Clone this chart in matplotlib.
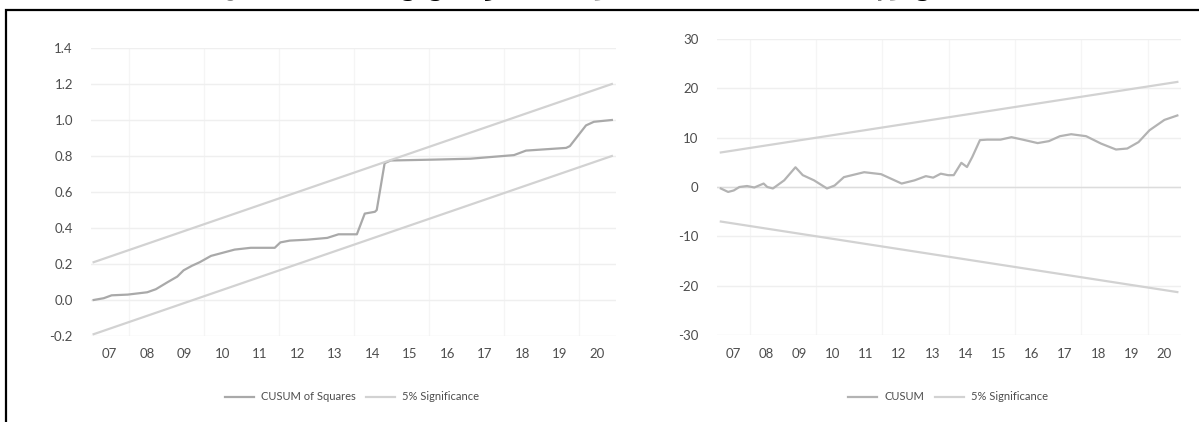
import matplotlib
matplotlib.use("Agg")
import matplotlib.pyplot as plt
from matplotlib.patches import Rectangle

# ---------------- data ----------------
year_labels = ["07", "08", "09", "10", "11", "12", "13", "14", "15", "16", "17", "18", "19", "20"]
year_starts = list(range(2007, 2021))

sq_t = [2007.07, 2007.34, 2007.55, 2007.98, 2008.5, 2008.73, 2009.05, 2009.3, 2009.47,
        2009.69, 2009.9, 2010.2, 2010.83, 2011.26, 2011.9, 2012.05, 2012.3, 2012.76,
        2013.3, 2013.6, 2014.09, 2014.3, 2014.57, 2014.62, 2014.83, 2014.99, 2016.17,
        2017.12, 2018.28, 2018.6, 2019.67, 2019.77, 2020.2, 2020.41, 2020.89]
sq_vals = [0.0, 0.01, 0.026, 0.03, 0.043, 0.06, 0.10, 0.13, 0.165, 0.19, 0.21, 0.245,
           0.28, 0.29, 0.29, 0.32, 0.33, 0.335, 0.345, 0.365, 0.365, 0.48, 0.49, 0.5,
           0.76, 0.775, 0.78, 0.785, 0.805, 0.83, 0.845, 0.855, 0.97, 0.99, 1.0]
sq_band_t = [2007.07, 2020.89]
sq_upper = [0.21, 1.2]
sq_lower = [-0.19, 0.8]

cu_t = [2007.13, 2007.35, 2007.52, 2007.69, 2007.92, 2008.14, 2008.42, 2008.53, 2008.70,
        2009.04, 2009.38, 2009.60, 2009.94, 2010.33, 2010.56, 2010.84, 2011.45, 2011.96,
        2012.58, 2012.97, 2013.31, 2013.53, 2013.76, 2013.98, 2014.15, 2014.38, 2014.55,
        2014.71, 2014.94, 2015.16, 2015.56, 2015.89, 2016.23, 2016.68, 2017.02, 2017.35,
        2017.69, 2018.14, 2018.59, 2019.04, 2019.38, 2019.72, 2020.05, 2020.50, 2020.89]
cu_vals = [-0.3, -1.0, -0.7, 0.0, 0.2, -0.1, 0.7, 0.0, -0.3, 1.35, 4.0, 2.4, 1.35, -0.3,
           0.3, 2.0, 3.0, 2.6, 0.7, 1.35, 2.2, 1.9, 2.7, 2.4, 2.4, 4.9, 4.05, 6.1, 9.5,
           9.6, 9.6, 10.1, 9.6, 8.9, 9.3, 10.3, 10.7, 10.3, 8.8, 7.6, 7.8, 9.1, 11.5,
           13.6, 14.5]
cu_band_t = [2007.13, 2020.89]
cu_upper = [7.0, 21.3]
cu_lower = [-7.0, -21.3]

sq_yticks = [-0.2, 0.0, 0.2, 0.4, 0.6, 0.8, 1.0, 1.2, 1.4]
cu_yticks = [-30, -20, -10, 0, 10, 20, 30]

title_text = "الشكل (3): نتائج اختبار CUSUM و CUSUM of squares للنموذج"

# ---------------- style ----------------
W, H = 1199, 422
fig = plt.figure(figsize=(W / 100, H / 100), dpi=100)
plt.rcParams['font.family'] = ['Lato', 'DejaVu Sans']

C_MAIN = "#a9a9a9"
C_BAND = "#d2d2d2"
C_GRID = "#efefef"
C_TXT = "#4d4d4d"


def fr(x0, y0, x1, y1):
    return [x0 / W, 1 - y1 / H, (x1 - x0) / W, (y1 - y0) / H]


def style(ax, yticks, fmt):
    for s in ax.spines.values():
        s.set_visible(False)
    ax.set_yticks(yticks)
    ax.set_yticklabels([fmt(v) for v in yticks])
    centers = [y + 0.5 for y in year_starts]
    ax.set_xticks(centers)
    ax.set_xticklabels(year_labels)
    ax.set_xticks(list(range(2008, 2021, 2)), minor=True)
    ax.tick_params(axis='both', which='both', length=0, labelsize=9.5, colors=C_TXT)
    ax.tick_params(axis='y', pad=13)
    ax.tick_params(axis='x', pad=9)
    ax.grid(axis='y', which='major', color=C_GRID, lw=1.0)
    ax.grid(axis='x', which='minor', color="#f5f5f5", lw=1.0)
    ax.set_axisbelow(True)


# left panel
ax1 = fig.add_axes(fr(91, 48, 616, 336))
ax1.plot(sq_t, sq_vals, color=C_MAIN, lw=1.6, label="CUSUM of Squares")
ax1.plot(sq_band_t, sq_upper, color=C_BAND, lw=1.6, label="5% Significance")
ax1.plot(sq_band_t, sq_lower, color=C_BAND, lw=1.6)
ax1.set_xlim(2007, 2021)
ax1.set_ylim(-0.2, 1.4)
style(ax1, sq_yticks, lambda v: f"{v:.1f}")
ax1.legend(loc='center', bbox_to_anchor=(352 / W, 1 - 397 / H), bbox_transform=fig.transFigure,
           ncol=2, frameon=False, fontsize=8, labelcolor=C_TXT, handlelength=2.6,
           columnspacing=1.0, handletextpad=0.6)

# right panel
ax2 = fig.add_axes(fr(716.5, 39, 1181, 335))
ax2.plot(cu_t, cu_vals, color="#b3b3b3", lw=1.6, label="CUSUM")
ax2.plot(cu_band_t, cu_upper, color=C_BAND, lw=1.6, label="5% Significance")
ax2.plot(cu_band_t, cu_lower, color=C_BAND, lw=1.6)
ax2.axhline(0, color="#dcdcdc", lw=1.0, zorder=1)
ax2.set_xlim(2007, 2021)
ax2.set_ylim(-30, 30)
style(ax2, cu_yticks, lambda v: f"{v:d}")
ax2.legend(loc='center', bbox_to_anchor=(948 / W, 1 - 397 / H), bbox_transform=fig.transFigure,
           ncol=2, frameon=False, fontsize=8, labelcolor=C_TXT, handlelength=2.6,
           columnspacing=1.0, handletextpad=0.6)

# outer frame (continues beyond the right and bottom edges)
fig.add_artist(Rectangle((5.5 / W, -0.1), 1.2, 1.1 - 9.5 / H, transform=fig.transFigure,
                         fill=False, ec='black', lw=1.6))

# title, cut off at the top edge as in the reference
fig.text(0.47, 1 + 4 / H, title_text, ha='center', va='baseline', fontsize=14,
         fontweight='bold', family=['DejaVu Serif', 'DejaVu Sans'], color='black')

fig.savefig("out.png", dpi=100)
